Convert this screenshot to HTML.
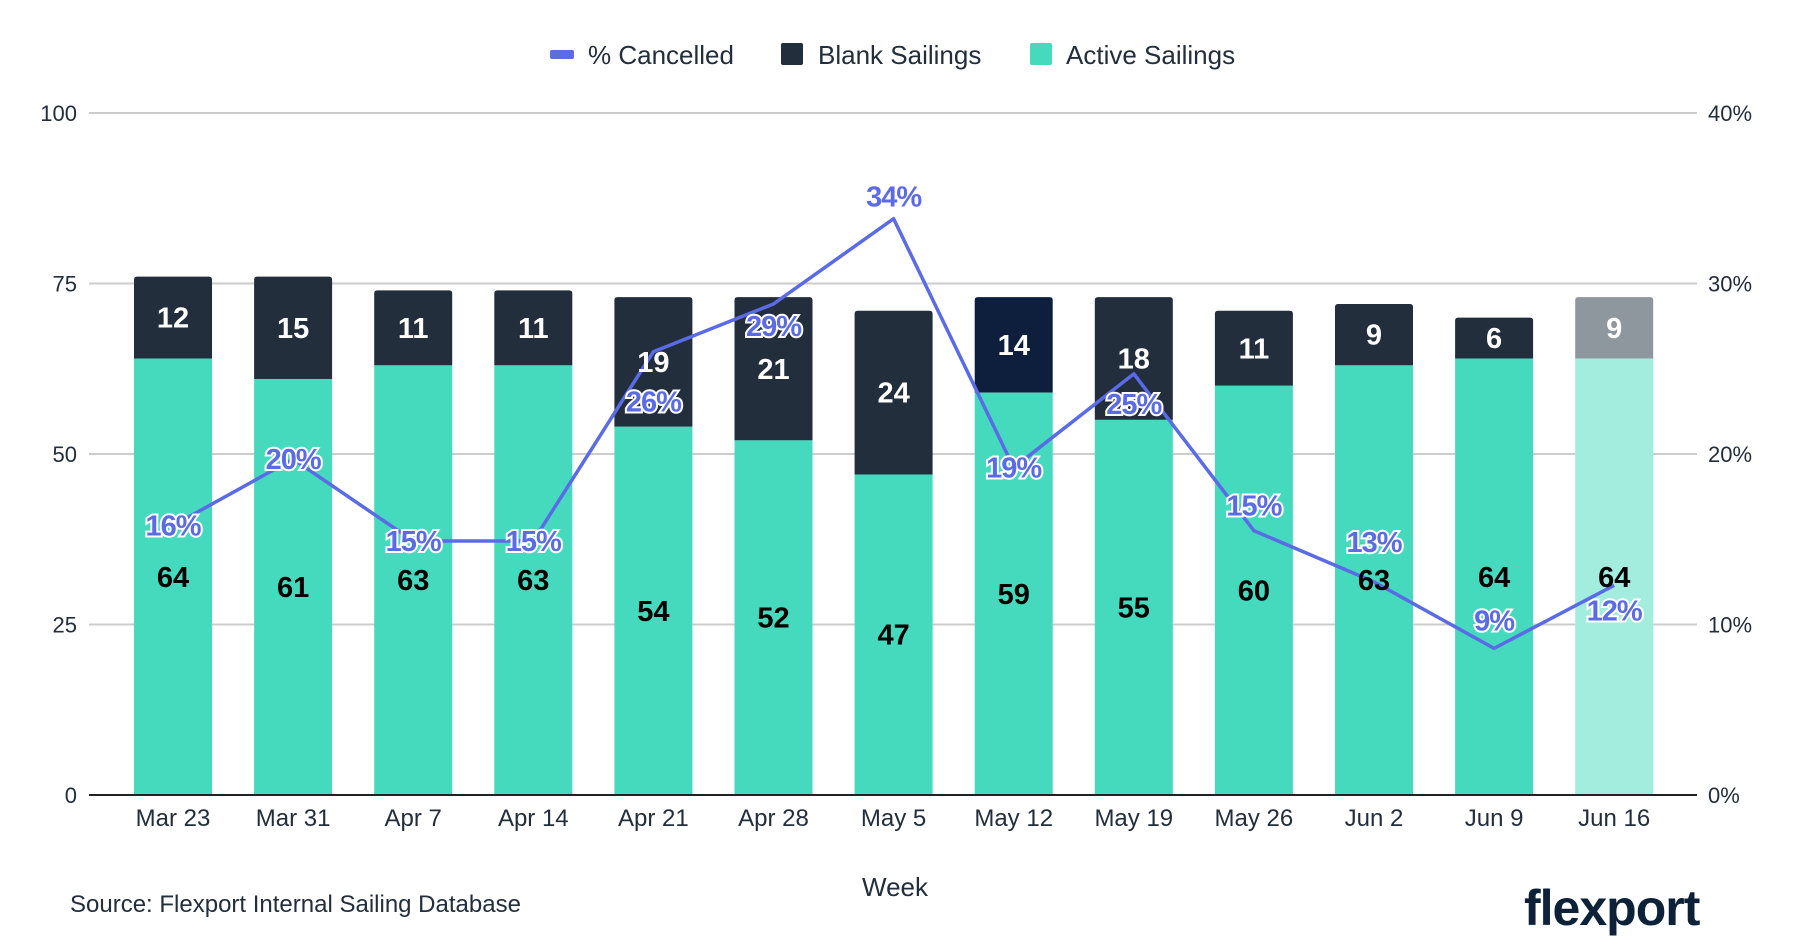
<!DOCTYPE html>
<html><head><meta charset="utf-8"><style>
html,body{margin:0;padding:0;background:#fff;}
svg{display:block;font-family:"Liberation Sans",sans-serif;}
</style></head><body>
<svg id="chart" width="1800" height="948" viewBox="0 0 1800 948" xmlns="http://www.w3.org/2000/svg">
<g font-size="26" fill="#222E3C">
  <g><rect x="550" y="50" width="24" height="9" rx="2" fill="#5B6BE6"/><text x="588" y="64">% Cancelled</text></g>
  <g><rect x="781" y="43" width="22" height="22" rx="2" fill="#222E3C"/><text x="818" y="64">Blank Sailings</text></g>
  <g><rect x="1030" y="43" width="22" height="22" rx="2" fill="#45DABE"/><text x="1066" y="64">Active Sailings</text></g>
</g>
<g id="grid"></g>
<g id="bars"></g>
<g id="line"></g>
<g id="labels"></g>
<g id="xaxis"></g>
<text x="895" y="896" font-size="26" text-anchor="middle" fill="#222E3C">Week</text>
<text x="70" y="912" font-size="24" fill="#222E3C">Source: Flexport Internal Sailing Database</text>
<text x="1524" y="925" font-size="50" font-weight="bold" fill="#0D2238" letter-spacing="-1">flexport</text>
</svg>
<script>
const categories=["Mar 23","Mar 31","Apr 7","Apr 14","Apr 21","Apr 28","May 5","May 12","May 19","May 26","Jun 2","Jun 9","Jun 16"];
const activeVals=[64,61,63,63,54,52,47,59,55,60,63,64,64];
const blankVals=[12,15,11,11,19,21,24,14,18,11,9,6,9];
const pctVals=[15.8,19.7,14.9,14.9,26.0,28.8,33.8,19.2,24.7,15.5,12.5,8.6,12.3];
const pctLabels=["16%","20%","15%","15%","26%","29%","34%","19%","25%","15%","13%","9%","12%"];
const leftTicks=[0,25,50,75,100];
const rightTicks=["0%","10%","20%","30%","40%"];
const labelDy=[0,0,0,0,50,22,-22,0,30,-25,-40,-28,25];

const NS="http://www.w3.org/2000/svg";
const X0=89,X1=1697,Y0=795,Y1=113,first=173,step=120.1,bw=78;
const xC=i=>first+i*step;
const yL=v=>Y0-(v/100)*(Y0-Y1);
const yR=p=>Y0-(p/40)*(Y0-Y1);
function mk(tag,attrs,parent,txt){const e=document.createElementNS(NS,tag);for(const k in attrs)e.setAttribute(k,attrs[k]);if(txt!==undefined)e.textContent=txt;parent.appendChild(e);return e;}
const grid=document.getElementById('grid'),bars=document.getElementById('bars'),line=document.getElementById('line'),labels=document.getElementById('labels'),xaxis=document.getElementById('xaxis');
leftTicks.forEach((t,i)=>{
  const y=yL(t);
  if(t>0){const g=mk('line',{x1:X0,x2:X1,y1:y,y2:y,stroke:'#CCCCCC','stroke-width':2},grid);
  
  }
  const l=mk('text',{x:77,y:y+8,'font-size':22,'text-anchor':'end',fill:'#222E3C'},grid,String(t));
  
  
  const r=mk('text',{x:1708,y:y+8,'font-size':22,fill:'#222E3C'},grid,rightTicks[i]);
  
  
});
categories.forEach((c,i)=>{
  const x=xC(i)-bw/2,last=i===categories.length-1;
  const ya=yL(activeVals[i]),yb=yL(activeVals[i]+blankVals[i]);
  const bc=i===7?'#0D1F3C':(last?'#8E969E':'#222E3C');
  const b=mk('path',{d:`M${x},${ya} V${yb+3} Q${x},${yb} ${x+3},${yb} H${x+bw-3} Q${x+bw},${yb} ${x+bw},${yb+3} V${ya} Z`,fill:bc},bars);
  
  
  const a=mk('rect',{x:x,y:ya,width:bw,height:Y0-ya,fill:last?'#A3EDDF':'#45DABE'},bars);
  
  
  const tb=mk('text',{x:xC(i),y:(ya+yb)/2+10,'font-size':29,'font-weight':'bold','text-anchor':'middle',fill:'#fff'},labels,String(blankVals[i]));
  
  
  const ta=mk('text',{x:xC(i),y:(ya+Y0)/2+10,'font-size':29,'font-weight':'bold','text-anchor':'middle',fill:'#000'},labels,String(activeVals[i]));
  
  
  const xl=mk('text',{x:xC(i),y:826,'font-size':24,'text-anchor':'middle',fill:'#222E3C'},xaxis,c);
  
  
});
const ax=mk('line',{x1:X0,x2:X1,y1:Y0,y2:Y0,stroke:'#222',"stroke-width":2},xaxis);


const pts=pctVals.map((p,i)=>`${xC(i)},${yR(p)}`).join(' ');
const pl=mk('polyline',{points:pts,fill:'none',stroke:'#5B6BE6','stroke-width':3.5,'stroke-linejoin':'round'},line);


pctVals.forEach((p,i)=>{
  const t=mk('text',{x:xC(i),y:yR(p)+labelDy[i]+10,'font-size':29,'font-weight':'bold','text-anchor':'middle',fill:'#5B6BE6',stroke:'#fff','stroke-width':4,'paint-order':'stroke','letter-spacing':'-1'},line,pctLabels[i]);
  
  
});
</script>
</body></html>
